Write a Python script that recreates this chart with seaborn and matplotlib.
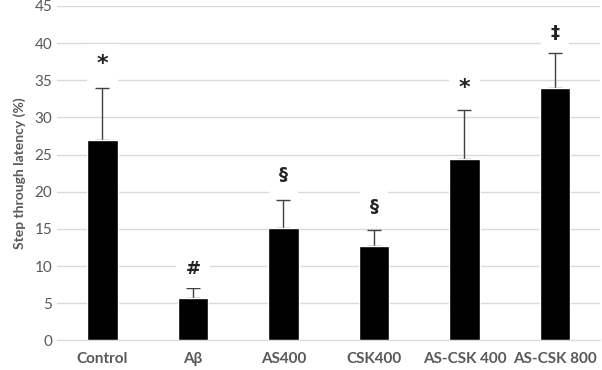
import matplotlib
matplotlib.use("Agg")
import matplotlib.pyplot as plt
import seaborn as sns
import pandas as pd

groups = ["Control", "Aβ", "AS400", "CSK400", "AS-CSK 400", "AS-CSK 800"]
means = [26.9, 5.7, 15.1, 12.7, 24.4, 33.9]
upper_err = [7.1, 1.4, 3.8, 2.2, 6.6, 4.7]
marks = ["*", "#", "§", "§", "*", "‡"]
mark_y = [37.2, 9.6, 22.2, 18.0, 34.0, 41.4]

df = pd.DataFrame({"group": groups, "latency": means})

sns.set_style("white")
plt.rcParams["font.family"] = ["Lato", "DejaVu Sans"]

fig = plt.figure(figsize=(6.02, 3.70), dpi=100)
ax = fig.add_axes([0.095, 0.08, 0.902, 0.904])

sns.barplot(data=df, x="group", y="latency", color="black", width=0.34,
            saturation=1, ax=ax, zorder=2)

# upper-only error bars (lower half hidden behind the bars)
ax.errorbar(range(len(groups)), means, yerr=[[0] * len(groups), upper_err],
            fmt="none", ecolor="#404040", elinewidth=1, capsize=5,
            capthick=1, zorder=1.5)

for i, (m, y) in enumerate(zip(marks, mark_y)):
    size = 16 if m == "*" else 13
    ax.text(i, y, m, ha="center", va="center", fontsize=size, fontweight="bold",
            color="#222222", family=["DejaVu Sans"],
            bbox=dict(facecolor="white", edgecolor="none", pad=7), zorder=4)

ax.set_ylim(0, 45)
ax.set_yticks(range(0, 46, 5))
ax.set_xlim(-0.5, len(groups) - 0.5)
ax.yaxis.grid(True, color="#d9d9d9", linewidth=1, zorder=0)
ax.set_axisbelow(True)
for s in ["top", "right", "left"]:
    ax.spines[s].set_visible(False)
ax.spines["bottom"].set_color("#d9d9d9")
ax.tick_params(axis="both", length=0, colors="#595959", labelsize=11)
ax.tick_params(axis="x", pad=8)
for lbl in ax.get_xticklabels():
    lbl.set_fontweight("bold")
ax.set_xlabel("")
ax.set_ylabel("Step through latency (%)", fontsize=10, fontweight="bold",
              color="#595959", labelpad=6)

fig.savefig("out.png", dpi=100)
